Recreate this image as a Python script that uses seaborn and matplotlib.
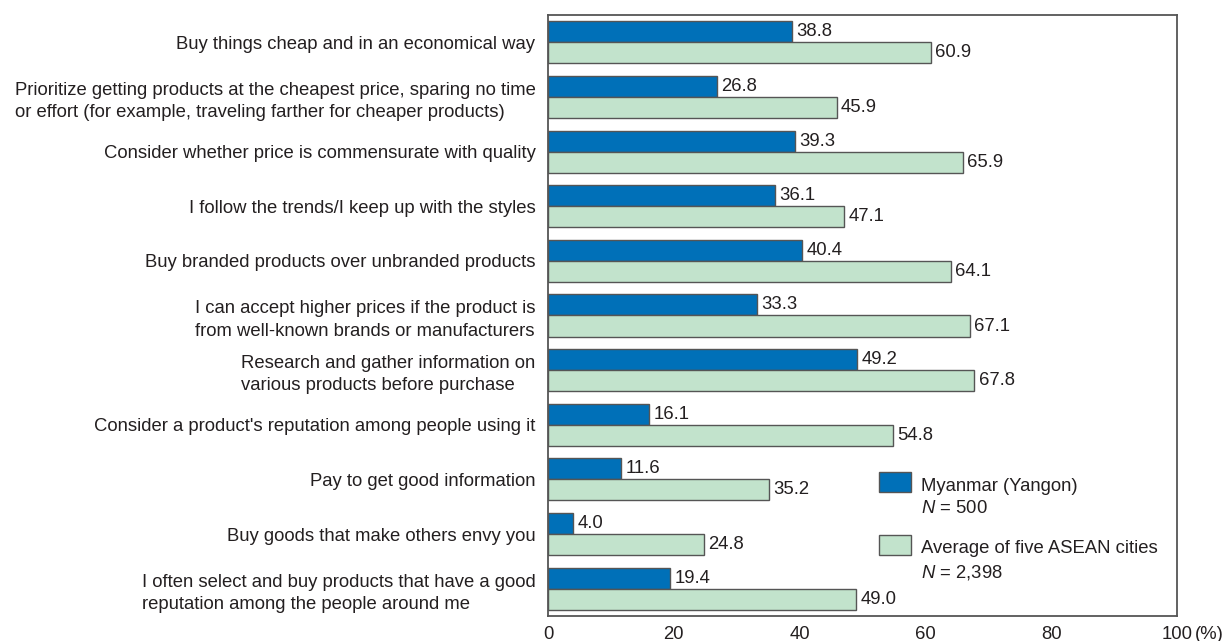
import matplotlib
matplotlib.use("Agg")
import matplotlib.pyplot as plt
from matplotlib.patches import Rectangle
from matplotlib.legend_handler import HandlerPatch
import seaborn as sns
import pandas as pd

categories = [
    "Buy things cheap and in an economical way",
    "Prioritize getting products at the cheapest price, sparing no time\nor effort (for example, traveling farther for cheaper products)",
    "Consider whether price is commensurate with quality",
    "I follow the trends/I keep up with the styles",
    "Buy branded products over unbranded products",
    "I can accept higher prices if the product is\nfrom well-known brands or manufacturers",
    "Research and gather information on\nvarious products before purchase",
    "Consider a product's reputation among people using it",
    "Pay to get good information",
    "Buy goods that make others envy you",
    "I often select and buy products that have a good\nreputation among the people around me",
]
myanmar = [38.8, 26.8, 39.3, 36.1, 40.4, 33.3, 49.2, 16.1, 11.6, 4.0, 19.4]
asean = [60.9, 45.9, 65.9, 47.1, 64.1, 67.1, 67.8, 54.8, 35.2, 24.8, 49.0]
series_names = ["Myanmar (Yangon)\n$N$ = 500", "Average of five ASEAN cities\n$N$ = 2,398"]
x_ticks = [0, 20, 40, 60, 80, 100]

sns.set_theme(style="white")
plt.rcParams["font.family"] = ["Liberation Sans", "DejaVu Sans"]
plt.rcParams["mathtext.fontset"] = "custom"
plt.rcParams["mathtext.it"] = "Liberation Sans:italic"
plt.rcParams["mathtext.rm"] = "Liberation Sans"

fs = 13.3
text_color = "#231f20"
edge_color = "#555555"
colors = ["#0070b8", "#c2e3cc"]

df = pd.DataFrame({
    "category": categories * 2,
    "value": myanmar + asean,
    "series": [series_names[0]] * len(categories) + [series_names[1]] * len(categories),
})

fig = plt.figure(figsize=(12.27, 6.41), dpi=100)
ax = fig.add_axes([548 / 1227, 1 - 616 / 641, (1177 - 548) / 1227, (616 - 15) / 641])

sns.barplot(data=df, y="category", x="value", hue="series", orient="h",
            palette=colors, width=0.77, gap=0, ax=ax,
            edgecolor=edge_color, linewidth=1.0, saturation=1, legend=True)

for container in ax.containers:
    ax.bar_label(container, fmt="%.1f", padding=3, fontsize=fs, color=text_color)

ax.set_xlim(0, 100)
ax.set_xticks(x_ticks)
ax.set_xticklabels([str(t) for t in x_ticks])
ax.set_xlabel("")
ax.set_ylabel("")
ax.tick_params(axis="x", direction="in", length=7, width=1, color=edge_color,
               labelsize=fs, labelcolor=text_color, pad=7)
ax.tick_params(axis="y", length=0, labelsize=fs, labelcolor=text_color, pad=9)
for lbl in ax.get_yticklabels():
    lbl.set_multialignment("left")
    lbl.set_linespacing(1.4)
for side in ["left", "right", "top", "bottom"]:
    ax.spines[side].set_visible(True)
    ax.spines[side].set_color(edge_color)
    ax.spines[side].set_linewidth(1.3)

ax.annotate("(%)", xy=(100, 0), xycoords=("data", "axes fraction"),
            xytext=(13, -7), textcoords="offset points", ha="left", va="top",
            fontsize=fs, color=text_color)


class TopAlignedBox(HandlerPatch):
    """Legend swatch lifted to sit beside the first line of a two-line label."""
    def create_artists(self, legend, orig_handle, xdescent, ydescent,
                       width, height, fontsize, trans):
        p = Rectangle((-xdescent, -ydescent + 0.86 * fontsize), width, height)
        self.update_prop(p, orig_handle, legend)
        p.set_transform(trans)
        return [p]


handles, labels = ax.get_legend_handles_labels()
leg = ax.legend(handles, labels, loc="upper left", bbox_to_anchor=(0.5, 0.257),
                frameon=False, fontsize=fs, handlelength=1.75, handleheight=1.3,
                labelspacing=1.23, handletextpad=0.5, labelcolor=text_color,
                handler_map={type(handles[0]): TopAlignedBox()})
for t in leg.get_texts():
    t.set_linespacing(1.4)

fig.savefig("out.png", dpi=100, facecolor="white")
